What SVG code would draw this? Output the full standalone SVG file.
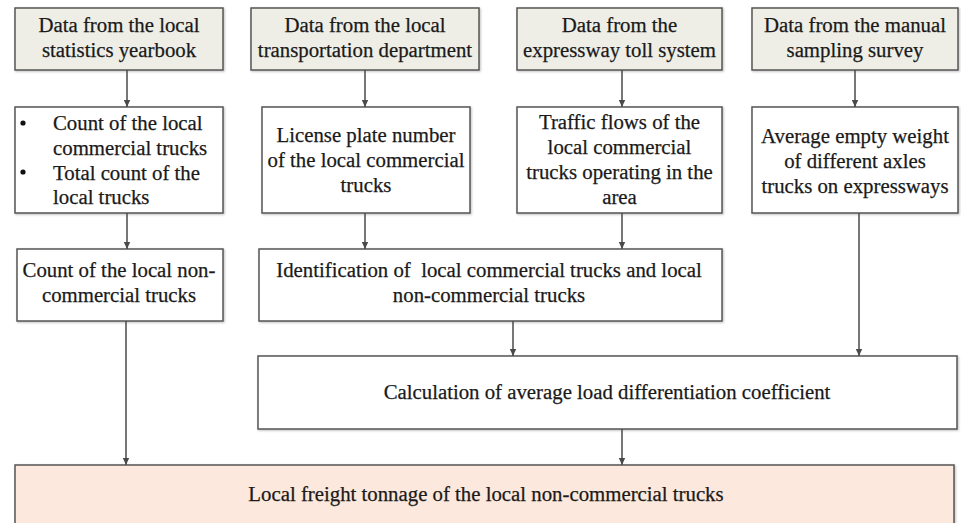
<svg xmlns="http://www.w3.org/2000/svg" width="961" height="523" viewBox="0 0 961 523">
  <defs>
    <marker id="arrow" markerWidth="8" markerHeight="8" refX="7" refY="4" orient="auto" markerUnits="userSpaceOnUse">
      <path d="M0,0.8 L7,4 L0,7.2 Z" fill="#4a4a4a"/>
    </marker>
    <filter id="shadow" x="-5%" y="-5%" width="110%" height="115%">
      <feDropShadow dx="1" dy="1" stdDeviation="0.8" flood-color="#000" flood-opacity="0.25"/>
    </filter>
  </defs>
  <style>
    .box { stroke: #555; stroke-width: 1.5; filter: url(#shadow); }
    .src { fill: #eeeee6; }
    .plain { fill: #ffffff; }
    .result { fill: #fce8dc; }
    .t { font-family: "Liberation Serif", "Times New Roman", serif; font-size: 20.8px; fill: #1a1a1a; stroke: #1a1a1a; stroke-width: 0.25; }
    .c { text-anchor: middle; }
    .edge { stroke: #4a4a4a; stroke-width: 1.5; fill: none; marker-end: url(#arrow); }
  </style>
  <rect width="961" height="523" fill="#ffffff"/>

  <!-- data sources -->
  <g id="src-yearbook">
    <rect class="box src" x="15" y="8" width="208" height="62"/>
    <text class="t c" x="119" y="32">Data from the local</text>
    <text class="t c" x="119" y="57">statistics yearbook</text>
  </g>
  <g id="src-transport">
    <rect class="box src" x="251" y="8" width="228" height="62"/>
    <text class="t c" x="365" y="32">Data from the local</text>
    <text class="t c" x="365" y="57">transportation department</text>
  </g>
  <g id="src-toll">
    <rect class="box src" x="517" y="8" width="205" height="62"/>
    <text class="t c" x="619.5" y="32">Data from the</text>
    <text class="t c" x="619.5" y="57">expressway toll system</text>
  </g>
  <g id="src-survey">
    <rect class="box src" x="752" y="8" width="206" height="62"/>
    <text class="t c" x="855" y="32">Data from the manual</text>
    <text class="t c" x="855" y="57">sampling survey</text>
  </g>

  <!-- extracted data -->
  <g id="counts">
    <rect class="box plain" x="15" y="107" width="208" height="106"/>
    <circle cx="23" cy="123" r="2.6" fill="#111"/>
    <circle cx="23" cy="172" r="2.6" fill="#111"/>
    <text class="t" x="53" y="130">Count of the local</text>
    <text class="t" x="53" y="155">commercial trucks</text>
    <text class="t" x="53" y="180">Total count of the</text>
    <text class="t" x="53" y="204">local trucks</text>
  </g>
  <g id="plates">
    <rect class="box plain" x="262" y="107" width="208" height="106"/>
    <text class="t c" x="366" y="142">License plate number</text>
    <text class="t c" x="366" y="167">of the local commercial</text>
    <text class="t c" x="366" y="192">trucks</text>
  </g>
  <g id="flows">
    <rect class="box plain" x="517" y="107" width="205" height="106"/>
    <text class="t c" x="619.5" y="129">Traffic flows of the</text>
    <text class="t c" x="619.5" y="154">local commercial</text>
    <text class="t c" x="619.5" y="179">trucks operating in the</text>
    <text class="t c" x="619.5" y="204">area</text>
  </g>
  <g id="empty-weight">
    <rect class="box plain" x="752" y="107" width="206" height="106"/>
    <text class="t c" x="855" y="143">Average empty weight</text>
    <text class="t c" x="855" y="168">of different axles</text>
    <text class="t c" x="855" y="193">trucks on expressways</text>
  </g>

  <!-- derived quantities -->
  <g id="noncommercial-count">
    <rect class="box plain" x="17" y="249" width="206" height="72"/>
    <text class="t c" x="119" y="277">Count of the local non-</text>
    <text class="t c" x="119" y="302">commercial trucks</text>
  </g>
  <g id="identification">
    <rect class="box plain" x="259" y="249" width="463" height="72"/>
    <text class="t c" x="489" y="277" xml:space="preserve">Identification of  local commercial trucks and local</text>
    <text class="t c" x="489" y="302">non-commercial trucks</text>
  </g>
  <g id="coefficient">
    <rect class="box plain" x="258" y="356" width="699" height="73"/>
    <text class="t c" x="607" y="399">Calculation of average load differentiation coefficient</text>
  </g>
  <g id="tonnage">
    <rect class="box result" x="15" y="465" width="939" height="70"/>
    <text class="t c" x="486" y="501">Local freight tonnage of the local non-commercial trucks</text>
  </g>

  <!-- connectors -->
  <g id="connectors">
    <line class="edge" x1="127" y1="70" x2="127" y2="107"/>
    <line class="edge" x1="365" y1="70" x2="365" y2="107"/>
    <line class="edge" x1="622" y1="70" x2="622" y2="107"/>
    <line class="edge" x1="855" y1="70" x2="855" y2="107"/>
    <line class="edge" x1="127" y1="213" x2="127" y2="249"/>
    <line class="edge" x1="365" y1="213" x2="365" y2="249"/>
    <line class="edge" x1="622" y1="213" x2="622" y2="249"/>
    <line class="edge" x1="513" y1="321" x2="513" y2="356"/>
    <line class="edge" x1="859" y1="213" x2="859" y2="356"/>
    <line class="edge" x1="126" y1="321" x2="126" y2="465"/>
    <line class="edge" x1="622" y1="429" x2="622" y2="465"/>
  </g>
</svg>
